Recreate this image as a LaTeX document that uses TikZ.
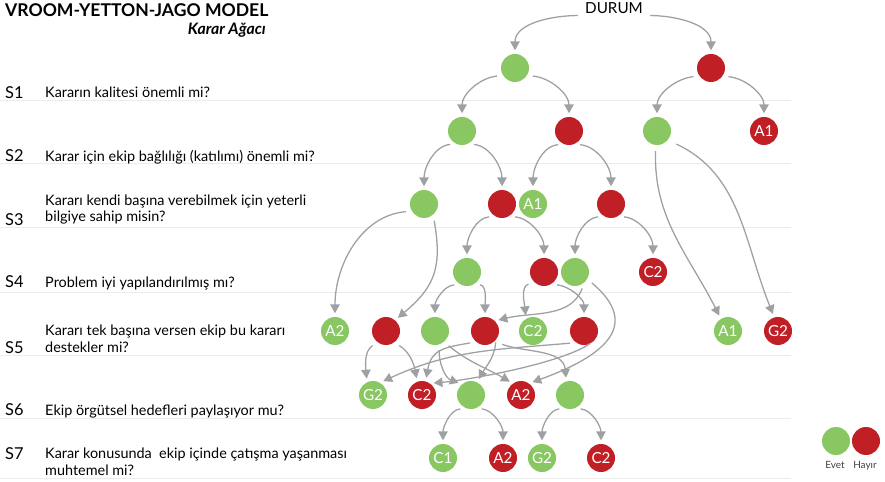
\documentclass[tikz,border=0pt]{standalone}
\usepackage{fontspec}
\setmainfont{Lato}
\usetikzlibrary{arrows.meta}
\definecolor{evetgreen}{RGB}{137,199,99}
\definecolor{hayirred}{RGB}{193,31,38}
\definecolor{okgray}{RGB}{158,161,164}
\definecolor{linegray}{RGB}{236,236,236}
\begin{document}
\begin{tikzpicture}[x=0.03cm,y=0.03cm,
  evet/.style={circle,fill=evetgreen,minimum size=0.84cm,inner sep=0,text=white,font=\fontsize{13}{13}\selectfont},
  hayir/.style={evet,fill=hayirred},
  ok/.style={draw=okgray,line width=1.1pt,-{Triangle[length=7.5pt,width=8pt]},shorten >=3pt,shorten <=5pt},
  soru/.style={anchor=base west,inner sep=0,align=left,font=\fontsize{12.3}{14.5}\selectfont},
  sno/.style={anchor=base west,inner sep=0,font=\fontsize{14}{14}\selectfont}]
\useasboundingbox (0,0) rectangle (885,-482);
\foreach \y in {100,163,227,292,355,418,478}
  \draw[linegray,line width=0.8pt] (0,-\y) -- (791,-\y);

\node[anchor=base west,inner sep=0,font=\fontsize{15}{16}\selectfont\bfseries] (baslik) at (5,-17) {VROOM-YETTON-JAGO MODEL};
\node[anchor=base east,inner sep=0,font=\fontsize{13.5}{14}\selectfont\bfseries\itshape] (altbaslik) at (266,-35) {Karar Ağacı};

\node[sno] (n1) at (5,-99) {S1};
\node[soru] (q1) at (45,-98) {Kararın kalitesi önemli mi?};
\node[sno] (n2) at (5,-162) {S2};
\node[soru] (q2) at (45,-162) {Karar için ekip bağlılığı (katılımı) önemli mi?};
\node[sno] (n3) at (5,-226) {S3};
\node[soru] (q3) at (45,-222) {Kararı kendi başına verebilmek için yeterli\\bilgiye sahip misin?};
\node[sno] (n4) at (5,-288) {S4};
\node[soru] (q4) at (45,-288) {Problem iyi yapılandırılmış mı?};
\node[sno] (n5) at (5,-353) {S5};
\node[soru] (q5) at (45,-352) {Kararı tek başına versen ekip bu kararı\\destekler mi?};
\node[sno] (n6) at (5,-415) {S6};
\node[soru] (q6) at (45,-415) {Ekip örgütsel hedefleri paylaşıyor mu?};
\node[sno] (n7) at (5,-459) {S7};
\node[soru] (q7) at (45,-475) {Karar konusunda\ \ ekip içinde çatışma yaşanması\\muhtemel mi?};

\node[anchor=base,inner sep=1pt,font=\fontsize{13}{14}\selectfont] (durum) at (614,-14) {DURUM};
\node[evet] (s1a) at (515,-68) {};
\node[hayir] (s1b) at (711,-68) {};
\node[evet] (s2a) at (462,-131) {};
\node[hayir] (s2b) at (569,-131) {};
\node[evet] (s2c) at (657,-131) {};
\node[hayir] (s2d) at (764,-131) {A1};
\node[evet] (s3a) at (424,-204) {};
\node[hayir] (s3b) at (502,-204) {};
\node[evet] (s3c) at (533,-204) {A1};
\node[hayir] (s3d) at (611,-204) {};
\node[evet] (s4a) at (467,-272) {};
\node[hayir] (s4b) at (544,-272) {};
\node[evet] (s4c) at (575,-272) {};
\node[hayir] (s4d) at (653,-272) {C2};
\node[evet] (s5a) at (335,-331) {A2};
\node[hayir] (s5b) at (386,-331) {};
\node[evet] (s5c) at (435,-331) {};
\node[hayir] (s5d) at (485,-331) {};
\node[evet] (s5e) at (533,-331) {C2};
\node[hayir] (s5f) at (584,-331) {};
\node[evet] (s5g) at (728,-331) {A1};
\node[hayir] (s5h) at (778,-331) {G2};
\node[evet] (s6a) at (373,-395) {G2};
\node[hayir] (s6b) at (422,-395) {C2};
\node[evet] (s6c) at (471,-395) {};
\node[hayir] (s6d) at (521,-395) {A2};
\node[evet] (s6e) at (570,-395) {};
\node[evet] (s7a) at (443,-458) {C1};
\node[hayir] (s7b) at (503,-458) {A2};
\node[evet] (s7c) at (542,-458) {G2};
\node[hayir] (s7d) at (601,-458) {C2};

\draw[ok] (durum.south west) to[out=180,in=90] (s1a.north);
\draw[ok] (durum.south east) to[out=0,in=90] (s1b.north);
\foreach \p/\l/\r/\u/\v in {s1a/s2a/s2b/212/328, s1b/s2c/s2d/215/325, s2a/s3a/s3b/245/295,
  s2b/s3c/s3d/248/292, s3b/s4a/s4b/240/300, s3d/s4c/s4d/240/300, s4a/s5c/s5d/240/300,
  s6c/s7a/s7b/250/290, s6e/s7c/s7d/250/290}
{
  \draw[ok] (\p.\u) to[out=185,in=90] (\l.north);
  \draw[ok] (\p.\v) to[out=-5,in=90] (\r.north);
}
\draw[ok] (s4b.300) to[out=-5,in=90] (s5f.north);
\draw[ok] (s2c.265) to[out=-92,in=117] (s5g.120);
\draw[ok,shorten <=8pt] (s2c.-40) to[out=-25,in=112] (s5h.105);
\draw[ok] (s3a.210) to[out=185,in=90] (s5a.north);
\draw[ok] (s3a.-50) to[out=-80,in=40,looseness=1.2] (s5b.50);
\draw[ok] (s4b.225) to[out=200,in=95] (s5e.120);
\draw[ok] (s4c.-50) to[out=-110,in=14] (s5d.45);
\draw[ok] (s4c.-30) to[out=-40,in=20,looseness=1.6] (s6d.55);
\draw[ok] (s5b.235) to[out=210,in=95] (s6a.115);
\draw[ok] (s5b.-55) to[out=-30,in=100] (s6b.110);
\draw[ok] (s5c.-70) to[out=-95,in=160] (s6c.130);
\draw[ok] (s5c.-50) to[out=-40,in=150] (s6d.125);
\draw[ok,looseness=1.3] (s5d.230) to[out=190,in=80] (s6b.75);
\draw[ok,shorten <=2pt] (s5d.-40) to[out=-95,in=60] (s6c.65);
\draw[ok,shorten <=7pt] (s5d.-48) to[out=-20,in=95] (s6e.105);
\draw[ok] (s5f.235) to[out=185,in=25] (s6a.60);
\draw[ok,looseness=0.6] (s5f.-40) to[out=-145,in=5] (s6b.55);

\node[evet] (levet) at (836,-441) {};
\node[hayir] (lhayir) at (866,-441) {};
\node[anchor=base,inner sep=0,text=black!75,font=\fontsize{8.5}{9}\selectfont] (tevet) at (835,-468) {Evet};
\node[anchor=base,inner sep=0,text=black!75,font=\fontsize{8.5}{9}\selectfont] (thayir) at (865,-468) {Hayır};
\end{tikzpicture}
\end{document}
